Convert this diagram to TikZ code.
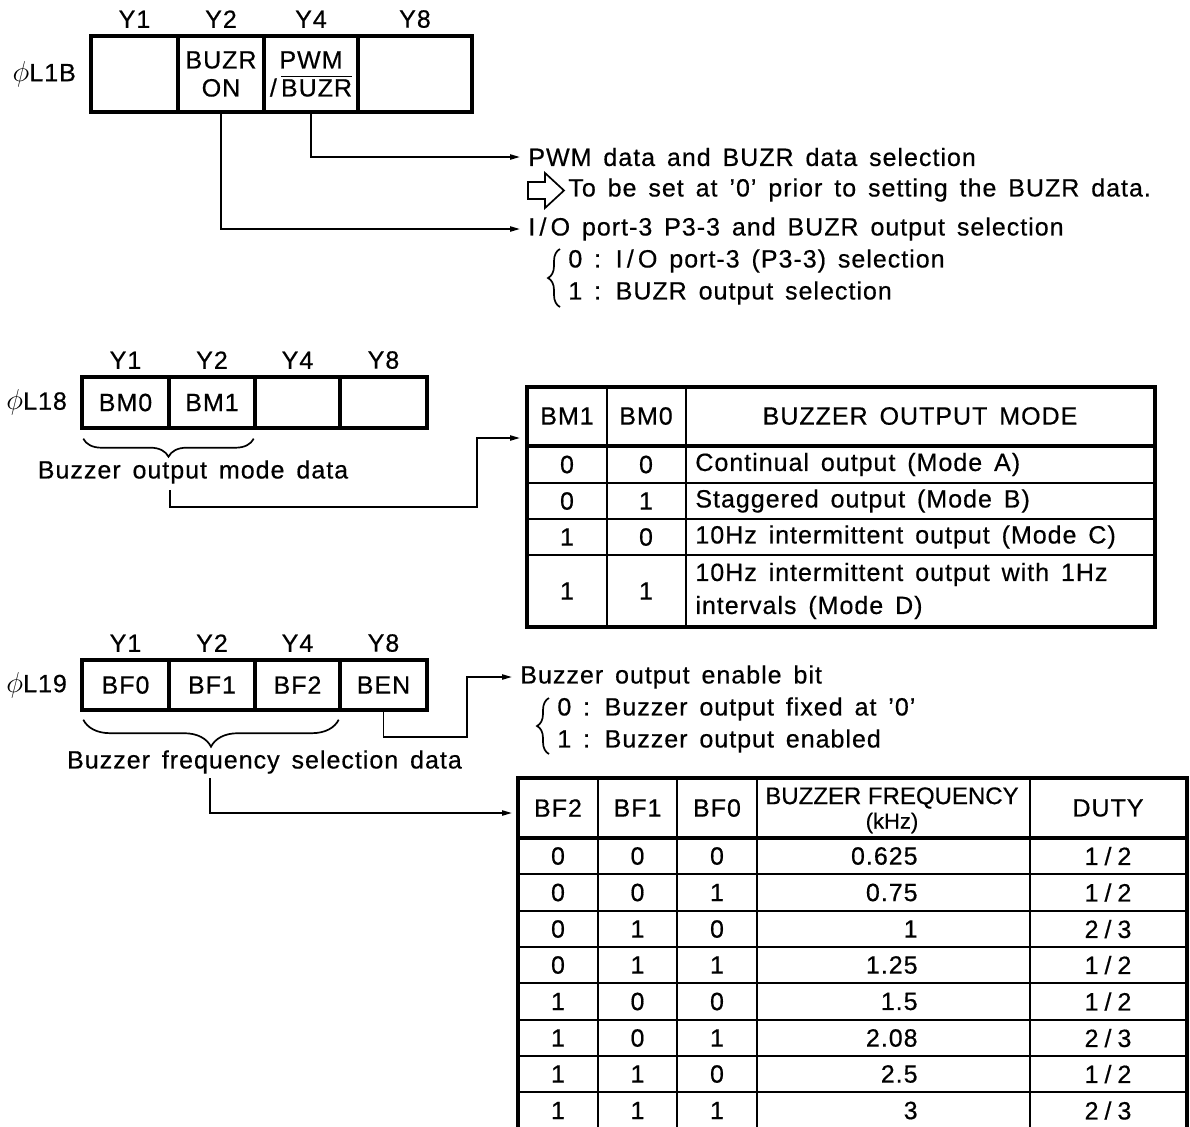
\documentclass[tikz,border=0pt]{standalone}
\usepackage{fontspec}
\setmainfont{Liberation Sans}[LetterSpace=4, WordSpace=1.5, FakeBold=0.5]
\newfontfamily\tightfont{Liberation Sans}[FakeBold=0.5]
\usetikzlibrary{arrows.meta,positioning,calc,decorations.pathreplacing}
\newcommand{\phisym}{{\fontsize{15}{15}\selectfont$\phi$}}
\tikzset{
  txt/.style={font=\fontsize{12.5}{16.5}\selectfont, inner sep=1pt},
  desc/.style={txt, anchor=west, inner xsep=4pt},
  regcell/.style={txt, draw, line width=1.7pt, inner sep=0pt, align=center,
                  font=\fontsize{12.5}{14}\selectfont},
  arrow/.style={-{Triangle[length=5pt,width=2.6pt]}, line width=0.85pt},
  curly/.style={decorate, decoration={brace, amplitude=#1}, line width=0.85pt},
  curly/.default=6pt,
  mcurly/.style={decorate, decoration={brace, mirror, amplitude=#1}, line width=0.85pt},
  hollow/.style={line width=0.85pt, line join=miter},
  tabframe/.style={line width=2pt},
  tabrule/.style={line width=1.6pt},
  tabline/.style={line width=0.9pt},
}

\begin{document}
\begin{tikzpicture}[x=0.5pt, y=-0.5pt]
\useasboundingbox (0,0) rectangle (1190,1126);
\clip (0,0) rectangle (1190,1126);

% ================= register L1B =================
\foreach \n/\cx/\w/\lbl/\yl in {a/134.5/43.5/{}/Y1, b/221/43/{BUZR\\ON}/Y2,
    c/311/47/{PWM\\/\,$\overline{\mbox{BUZR}}$}/Y4, d/415/57/{}/Y8} {
  \node[regcell, minimum width=\w pt, minimum height=38pt] (r1B\n) at (\cx,74) {\lbl};
  \node[txt, above=2pt of r1B\n] (y1B\n) {\yl};
}
\node[txt, left=5.5pt of r1Ba] (phi1B) {\phisym L1B};

\node[desc] (pwmsel) at (520,157) {PWM data and BUZR data selection};
\node[desc] (setzero) at (560,190) {To be set at '0' prior to setting the BUZR data.};
\node[desc] (iosel) at (520,229) {I\,/\,O port-3 P3-3 and BUZR output selection};
\node[desc] (io0) at (560,261) {0 : I\,/\,O port-3 (P3-3) selection};
\node[desc] (io1) at (560,293) {1 : BUZR output selection};

\draw[arrow] (r1Bc.south) |- (pwmsel.west);
\draw[arrow] (r1Bb.south) |- (iosel.west);
\draw[hollow] (528,182) -- (545,182) -- (545,173) -- (564,190.5) -- (545,208)
  -- (545,199) -- (528,199) -- cycle;
\draw[curly] ($(io1.west)+(0,14)$) -- ($(io0.west)+(0,-12)$);

% ================= register L18 =================
\foreach \n/\cx/\w/\lbl/\yl in {a/125.5/43.5/BM0/Y1, b/212/43/BM1/Y2,
    c/297.5/42.5/{}/Y4, d/383.5/43.5/{}/Y8} {
  \node[regcell, minimum width=\w pt, minimum height=25.5pt] (r18\n) at (\cx,402.5) {\lbl};
  \node[txt, above=2pt of r18\n] (y18\n) {\yl};
}
\node[txt, left=5.5pt of r18a] (phi18) {\phisym L18};

\draw[mcurly=9pt] ($(r18a.south west)+(3,9)$) -- ($(r18b.south east)+(-3,9)$);
\node[txt] (modedata) at (193,472) {Buzzer output mode data};
\coordinate (modetap) at (170,490);
\coordinate (bend18) at (477,507);
\coordinate (tab1in) at (520,438);
\draw[arrow] (modetap) |- (bend18) |- (tab1in);

% mode table
\draw[tabframe] (527,387) rectangle (1155,627);
\draw[tabrule] (527,446) -- (1155,446);
\foreach \y in {483,519,555} \draw[tabline] (527,\y) -- (1155,\y);
\foreach \x in {607,686} \draw[tabline] (\x,387) -- (\x,627);
\node[txt] (mh1) at (567,416) {BM1};
\node[txt] (mh0) at (646,416) {BM0};
\node[txt] (mhm) at (920,416) {BUZZER OUTPUT MODE};
\foreach \yc/\a/\b/\m [count=\i] in {464.5/0/0/{Continual output (Mode A)},
    501/0/1/{Staggered output (Mode B)}, 537/1/0/{10Hz intermittent output (Mode C)},
    591/1/1/{10Hz intermittent output with 1Hz\\intervals (Mode D)}} {
  \node[txt] (mb1\i) at (567,\yc) {\a};
  \node[txt] (mb0\i) at (646,\yc) {\b};
  \node[desc, align=left] (mm\i) at (687,\yc) {\m};
}

% ================= register L19 =================
\foreach \n/\cx/\w/\lbl/\yl in {a/125.5/43.5/BF0/Y1, b/212/43/BF1/Y2,
    c/297.5/42.5/BF2/Y4, d/383.5/43.5/BEN/Y8} {
  \node[regcell, minimum width=\w pt, minimum height=25pt] (r19\n) at (\cx,685) {\lbl};
  \node[txt, above=2pt of r19\n] (y19\n) {\yl};
}
\node[txt, left=5.5pt of r19a] (phi19) {\phisym L19};

\draw[mcurly=13.5pt] ($(r19a.south west)+(3,8)$) -- ($(r19c.south east)+(-3,8)$);
\node[txt] (freqdata) at (264.5,762) {Buzzer frequency selection data};

\node[desc] (enbit) at (512,677) {Buzzer output enable bit};
\node[desc] (ben0) at (549,709) {0 : Buzzer output fixed at '0'};
\node[desc] (ben1) at (549,741) {1 : Buzzer output enabled};
\draw[curly] ($(ben1.west)+(0,13)$) -- ($(ben0.west)+(0,-11)$);
\coordinate (bend19) at (467,737);
\draw[arrow] (r19d.south) |- (bend19) |- (enbit.west);

\coordinate (freqtap) at (210,778);
\coordinate (tab2in) at (512,813);
\draw[arrow] (freqtap) |- (tab2in);

% frequency table
\draw[tabframe] (518,778) rectangle (1187,1129);
\draw[tabrule] (518,838) -- (1187,838);
\foreach \y in {874,911,947,983,1020,1056,1092} \draw[tabline] (518,\y) -- (1187,\y);
\foreach \x in {598,677,757,1030} \draw[tabline] (\x,778) -- (\x,1129);
\node[txt] (fh2) at (558,808) {BF2};
\node[txt] (fh1) at (637.5,808) {BF1};
\node[txt] (fh0) at (717,808) {BF0};
\node[txt, font=\fontsize{12}{14}\tightfont] (fhf) at (892,798) {BUZZER FREQUENCY};
\node[txt, font=\fontsize{11}{12}\tightfont] (fhk) at (892,823) {(kHz)};
\node[txt] (fhd) at (1108,808) {DUTY};
\foreach \yc/\c/\b/\a/\f/\d [count=\i] in {856/0/0/0/0.625/{1\hspace{3pt}/\hspace{3pt}2},
    892.5/0/0/1/0.75/{1\hspace{3pt}/\hspace{3pt}2}, 929/0/1/0/1/{2\hspace{3pt}/\hspace{3pt}3},
    965/0/1/1/1.25/{1\hspace{3pt}/\hspace{3pt}2}, 1001.5/1/0/0/1.5/{1\hspace{3pt}/\hspace{3pt}2},
    1038/1/0/1/2.08/{2\hspace{3pt}/\hspace{3pt}3}, 1074/1/1/0/2.5/{1\hspace{3pt}/\hspace{3pt}2},
    1110.5/1/1/1/3/{2\hspace{3pt}/\hspace{3pt}3}} {
  \node[txt] (fb2\i) at (558,\yc) {\c};
  \node[txt] (fb1\i) at (637.5,\yc) {\b};
  \node[txt] (fb0\i) at (717,\yc) {\a};
  \node[txt, anchor=east, inner xsep=0pt] (ff\i) at (918,\yc) {\f};
  \node[txt] (fd\i) at (1108,\yc) {\d};
}
\end{tikzpicture}
\end{document}
